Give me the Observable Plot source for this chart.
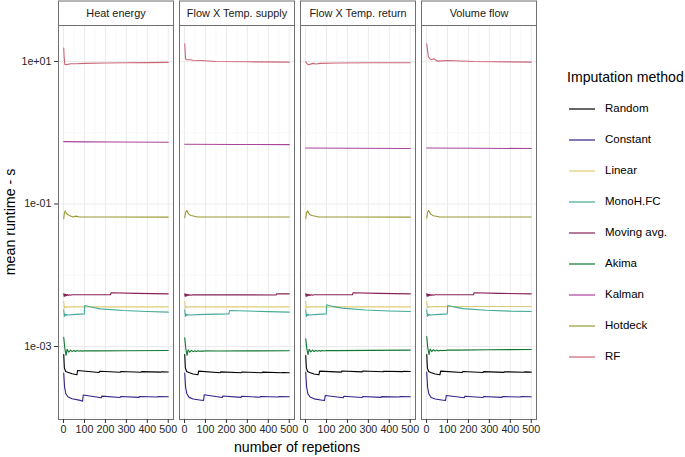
<!DOCTYPE html>
<html><head><meta charset="utf-8">
<script src="https://cdn.jsdelivr.net/npm/d3@7"></script>
<script src="https://cdn.jsdelivr.net/npm/@observablehq/plot@0.6"></script>
<style>
body{margin:0;background:#fff;font-family:"Liberation Sans",Arial,sans-serif;}
#wrap{position:relative;width:685px;height:457px;overflow:hidden;}
#chart{position:absolute;left:0;top:0;}
#legend{position:absolute;left:545px;top:0;}
</style></head><body><div id="wrap"><div id="chart"></div><svg id="legend" width="140" height="457"></svg></div>
<script>
// ---- categories / labels ----
const panels = ["Heat energy", "Flow X Temp. supply", "Flow X Temp. return", "Volume flow"];
const methods = ["Random", "Constant", "Linear", "MonoH.FC", "Moving avg.", "Akima", "Kalman", "Hotdeck", "RF"];
const colors = ["#000000", "#332288", "#DDCC77", "#44AA99", "#882255", "#117733", "#AA4499", "#999933", "#CC6677"];
const xTicks = [0, 100, 200, 300, 400, 500];
const xMinor = [50, 150, 250, 350, 450];
const yTicks = [1e1, 1e-1, 1e-3];
const yTickLabels = ["1e+01", "1e-01", "1e-03"];
const yMinor = [1e0, 1e-2, 1e-4];
const xTitle = "number of repetions";
const yTitle = "mean runtime - s";
const legendTitle = "Imputation method";

// ---- series values: [repetitions, mean runtime (s)], one array per panel ----
const Random = [
  [[1,0.000773],[4,0.00050],[10,0.000446],[20,0.000436],[41,0.000413],[64,0.000400],[67,0.000460],[170,0.000432],[173,0.000448],[270,0.000434],[273,0.000446],[370,0.000435],[373,0.000444],[465,0.000436],[468,0.000442],[500,0.000438]],
  [[1,0.000773],[4,0.00050],[10,0.000446],[20,0.000430],[41,0.000410],[64,0.000400],[67,0.000451],[170,0.000428],[173,0.000440],[270,0.000428],[273,0.000438],[370,0.000428],[373,0.000436],[465,0.000427],[468,0.000432],[500,0.000427]],
  [[1,0.000748],[4,0.00050],[10,0.000446],[20,0.000432],[41,0.000410],[64,0.000400],[67,0.000451],[170,0.000436],[173,0.000452],[270,0.000440],[273,0.000452],[370,0.000442],[373,0.000450],[465,0.000444],[468,0.000450],[500,0.000446]],
  [[1,0.000773],[4,0.00050],[10,0.000446],[20,0.000432],[41,0.000410],[64,0.000400],[67,0.000451],[170,0.000432],[173,0.000446],[270,0.000432],[273,0.000444],[370,0.000433],[373,0.000442],[465,0.000434],[468,0.000440],[500,0.000436]]
];
const Constant = [
  [[1,0.000422],[5,0.000269],[11,0.000217],[22,0.000195],[41,0.000185],[80,0.000175],[91,0.000171],[94,0.000208],[180,0.000191],[183,0.000201],[270,0.000192],[273,0.000199],[360,0.000193],[363,0.000199],[448,0.000195],[452,0.000199],[500,0.000197]],
  [[1,0.000422],[5,0.000269],[11,0.000217],[22,0.000193],[41,0.000183],[80,0.000176],[91,0.000175],[94,0.000210],[180,0.000192],[183,0.000202],[270,0.000193],[273,0.000200],[360,0.000194],[363,0.000199],[448,0.000195],[452,0.000199],[500,0.000197]],
  [[1,0.000436],[5,0.000272],[11,0.000218],[22,0.000195],[41,0.000184],[80,0.000176],[91,0.000175],[94,0.000205],[180,0.000191],[183,0.000200],[270,0.000192],[273,0.000199],[360,0.000193],[363,0.000198],[448,0.000195],[452,0.000199],[500,0.000197]],
  [[1,0.000436],[5,0.000270],[11,0.000216],[22,0.000192],[41,0.000183],[80,0.000176],[91,0.000175],[94,0.000205],[180,0.000191],[183,0.000200],[270,0.000192],[273,0.000199],[360,0.000193],[363,0.000198],[448,0.000195],[452,0.000199],[500,0.000197]]
];
const Linear = [
  [[1,0.00428],[4,0.00345],[7,0.00362],[10,0.00352],[14,0.00361],[18,0.00357],[25,0.00360],[500,0.00360]],
  [[1,0.00428],[4,0.00345],[7,0.00362],[10,0.00352],[14,0.00361],[18,0.00357],[25,0.00360],[500,0.00360]],
  [[1,0.00428],[4,0.00345],[7,0.00362],[10,0.00352],[14,0.00361],[18,0.00357],[25,0.00360],[500,0.00360]],
  [[1,0.00428],[4,0.00345],[7,0.00364],[10,0.00354],[14,0.00363],[18,0.00359],[25,0.00362],[500,0.00364]]
];
const MonoHFC = [
  [[1,0.00327],[4,0.00264],[7,0.00285],[10,0.00272],[14,0.00280],[20,0.00277],[60,0.00282],[99,0.00287],[101,0.00376],[130,0.00358],[175,0.00337],[285,0.00320],[400,0.00310],[500,0.00303]],
  [[1,0.00327],[4,0.00264],[7,0.00285],[10,0.00272],[14,0.00280],[20,0.00277],[100,0.00282],[212,0.00287],[215,0.00320],[300,0.00315],[400,0.00308],[500,0.00303]],
  [[1,0.00327],[4,0.00264],[7,0.00285],[10,0.00272],[14,0.00280],[20,0.00277],[60,0.00282],[99,0.00287],[101,0.00384],[130,0.00365],[175,0.00345],[285,0.00325],[400,0.00315],[500,0.00310]],
  [[1,0.00327],[4,0.00264],[7,0.00285],[10,0.00272],[14,0.00280],[20,0.00277],[60,0.00282],[99,0.00287],[101,0.00376],[130,0.00360],[175,0.00340],[285,0.00322],[400,0.00313],[500,0.00310]]
];
const MovingAvg = [
  [[1,0.00548],[3,0.00503],[5,0.00545],[7,0.00510],[9,0.00540],[11,0.00515],[14,0.00537],[17,0.00520],[20,0.00535],[24,0.00522],[28,0.00533],[33,0.00525],[40,0.00531],[224,0.00531],[227,0.00567],[350,0.00557],[500,0.00548]],
  [[1,0.00548],[3,0.00503],[5,0.00545],[7,0.00510],[9,0.00540],[11,0.00515],[14,0.00537],[17,0.00520],[20,0.00535],[24,0.00522],[28,0.00533],[33,0.00525],[40,0.00531],[437,0.00529],[440,0.00548],[500,0.00548]],
  [[1,0.00548],[3,0.00503],[5,0.00545],[7,0.00510],[9,0.00540],[11,0.00515],[14,0.00537],[17,0.00520],[20,0.00535],[24,0.00522],[28,0.00533],[33,0.00525],[40,0.00531],[224,0.00531],[227,0.00567],[350,0.00557],[500,0.00548]],
  [[1,0.00548],[3,0.00503],[5,0.00545],[7,0.00510],[9,0.00540],[11,0.00515],[14,0.00537],[17,0.00520],[20,0.00535],[24,0.00522],[28,0.00533],[33,0.00525],[40,0.00531],[224,0.00531],[227,0.00567],[350,0.00557],[500,0.00548]]
];
const Akima = [
  [[1,0.00135],[6,0.00095],[12,0.00075],[17,0.00091],[25,0.00083],[33,0.00089],[41,0.000845],[49,0.00088],[57,0.00085],[65,0.000875],[73,0.000855],[81,0.000872],[90,0.00086],[100,0.00087],[150,0.000868],[300,0.000872],[500,0.000879]],
  [[1,0.00132],[6,0.00094],[12,0.00075],[17,0.00090],[25,0.00083],[33,0.00088],[41,0.000845],[49,0.00087],[57,0.00085],[65,0.000868],[73,0.000855],[81,0.000866],[90,0.00086],[100,0.000866],[150,0.000864],[300,0.000866],[500,0.000869]],
  [[1,0.00128],[6,0.00094],[12,0.00077],[17,0.00091],[25,0.00084],[33,0.00089],[41,0.00085],[49,0.00088],[57,0.000855],[65,0.000877],[73,0.00086],[81,0.000876],[90,0.000866],[100,0.000876],[150,0.000874],[300,0.000882],[500,0.000889]],
  [[1,0.00138],[6,0.00096],[12,0.00077],[17,0.00092],[25,0.00085],[33,0.00090],[41,0.00086],[49,0.00089],[57,0.000865],[65,0.000888],[73,0.00087],[81,0.000886],[90,0.000876],[100,0.000888],[150,0.000890],[300,0.000898],[500,0.000908]]
];
const Kalman = [
  [[1,0.75],[100,0.745],[250,0.74],[500,0.735]],
  [[1,0.69],[250,0.685],[500,0.68]],
  [[1,0.61],[250,0.605],[500,0.60]],
  [[1,0.61],[250,0.605],[500,0.60]]
];
const Hotdeck = [
  [[1,0.062],[4,0.075],[8,0.080],[15,0.073],[28,0.069],[45,0.0655],[60,0.0675],[75,0.0655],[200,0.0655],[500,0.0654]],
  [[1,0.064],[5,0.076],[11,0.081],[20,0.072],[31,0.069],[63,0.0655],[200,0.0658],[500,0.0658]],
  [[1,0.062],[5,0.075],[10,0.080],[20,0.071],[30,0.069],[60,0.066],[200,0.0655],[500,0.0654]],
  [[1,0.063],[5,0.076],[10,0.081],[20,0.072],[32,0.0685],[60,0.066],[200,0.0658],[500,0.0656]]
];
const RF = [
  [[1,15.4],[3,11.5],[6,9.1],[12,9.0],[20,9.1],[35,9.3],[60,9.3],[100,9.4],[200,9.5],[300,9.6],[400,9.65],[500,9.7]],
  [[1,17.7],[5,10.9],[10,10.6],[30,10.55],[40,10.4],[80,10.3],[150,10.0],[300,9.9],[500,9.8]],
  [[1,10.0],[5,9.5],[12,9.0],[20,9.1],[35,9.4],[50,9.2],[70,9.4],[150,9.5],[300,9.6],[500,9.6]],
  [[1,17.7],[9,11.5],[22,10.56],[35,10.9],[53,10.1],[100,10.33],[226,10.0],[500,9.78]]
];
const seriesByMethod = [Random, Constant, Linear, MonoHFC, MovingAvg, Akima, Kalman, Hotdeck, RF];

// ---- build the long table ----
const rows = [];
methods.forEach((m, i) => seriesByMethod[i].forEach((arr, p) =>
  arr.forEach(([x, v]) => rows.push({method: m, panel: panels[p], x, v}))));

const W = 545, H = 457, MT = 25, MB = 38;
const FONT = "Liberation Sans, Arial, Helvetica, sans-serif";

const plot = Plot.plot({
  width: W, height: H,
  marginLeft: 58, marginRight: 9, marginTop: MT, marginBottom: MB,
  style: {fontFamily: FONT, fontSize: "10.7px", color: "#333", background: "white"},
  fx: {domain: panels, paddingInner: 0.0496, paddingOuter: 0, axis: null, label: null},
  x: {domain: [-24, 525], label: null},
  y: {type: "log", domain: [10 ** -4.025, 10 ** 1.505], label: null},
  color: {domain: methods, range: colors},
  marks: [
    Plot.ruleX(xMinor, {stroke: "#f3f3f3", strokeWidth: 0.6}),
    Plot.ruleX(xTicks, {stroke: "#ebebeb", strokeWidth: 1}),
    Plot.ruleY(yMinor, {stroke: "#f3f3f3", strokeWidth: 0.6}),
    Plot.ruleY(yTicks, {stroke: "#ebebeb", strokeWidth: 1}),
    Plot.line(rows, {fx: "panel", x: "x", y: "v", z: "method", stroke: "method", strokeWidth: 1.1}),
    Plot.frame({stroke: "#6f6f6f", strokeWidth: 1}),
    Plot.frame({stroke: "#6f6f6f", fill: "white", strokeWidth: 1, insetTop: -24.5, insetBottom: H - MT - MB}),
    Plot.text(panels, {fx: d => d, text: d => d, frameAnchor: "top", dy: -12.5, lineAnchor: "middle", fontSize: 10.9, fill: "#1a1a1a"}),
    Plot.axisX({ticks: xTicks, tickSize: 4, tickPadding: 2, label: null, fill: "#262626", stroke: "#333"}),
    Plot.axisY({ticks: yTicks, tickSize: 4, tickPadding: 3, label: null, fill: "#262626", stroke: "#333",
      tickFormat: d => yTickLabels[yTicks.indexOf(d)]})
  ]
});
document.getElementById("chart").appendChild(plot);

// axis titles
const svg = d3.select(plot);
svg.append("text").attr("x", (58 + (W - 9)) / 2).attr("y", 448)
  .attr("text-anchor", "middle").attr("dominant-baseline", "middle")
  .attr("font-family", FONT).attr("font-size", 14.2).attr("fill", "black").text(xTitle);
svg.append("text").attr("transform", `translate(11,${(MT + H - MB) / 2}) rotate(-90)`)
  .attr("text-anchor", "middle").attr("dominant-baseline", "middle")
  .attr("font-family", FONT).attr("font-size", 14.2).attr("fill", "black").text(yTitle);

// legend
const lg = d3.select("#legend");
lg.append("text").attr("x", 22).attr("y", 78).attr("dominant-baseline", "middle")
  .attr("font-family", FONT).attr("font-size", 14.1).attr("fill", "black").text(legendTitle);
methods.forEach((m, i) => {
  const y = 109 + 31 * i;
  lg.append("line").attr("x1", 24).attr("x2", 50).attr("y1", y).attr("y2", y)
    .attr("stroke", colors[i]).attr("stroke-width", 1.2);
  lg.append("text").attr("x", 60).attr("y", y).attr("dominant-baseline", "middle")
    .attr("font-family", FONT).attr("font-size", 11.5).attr("fill", "black").text(m);
});
</script></body></html>
